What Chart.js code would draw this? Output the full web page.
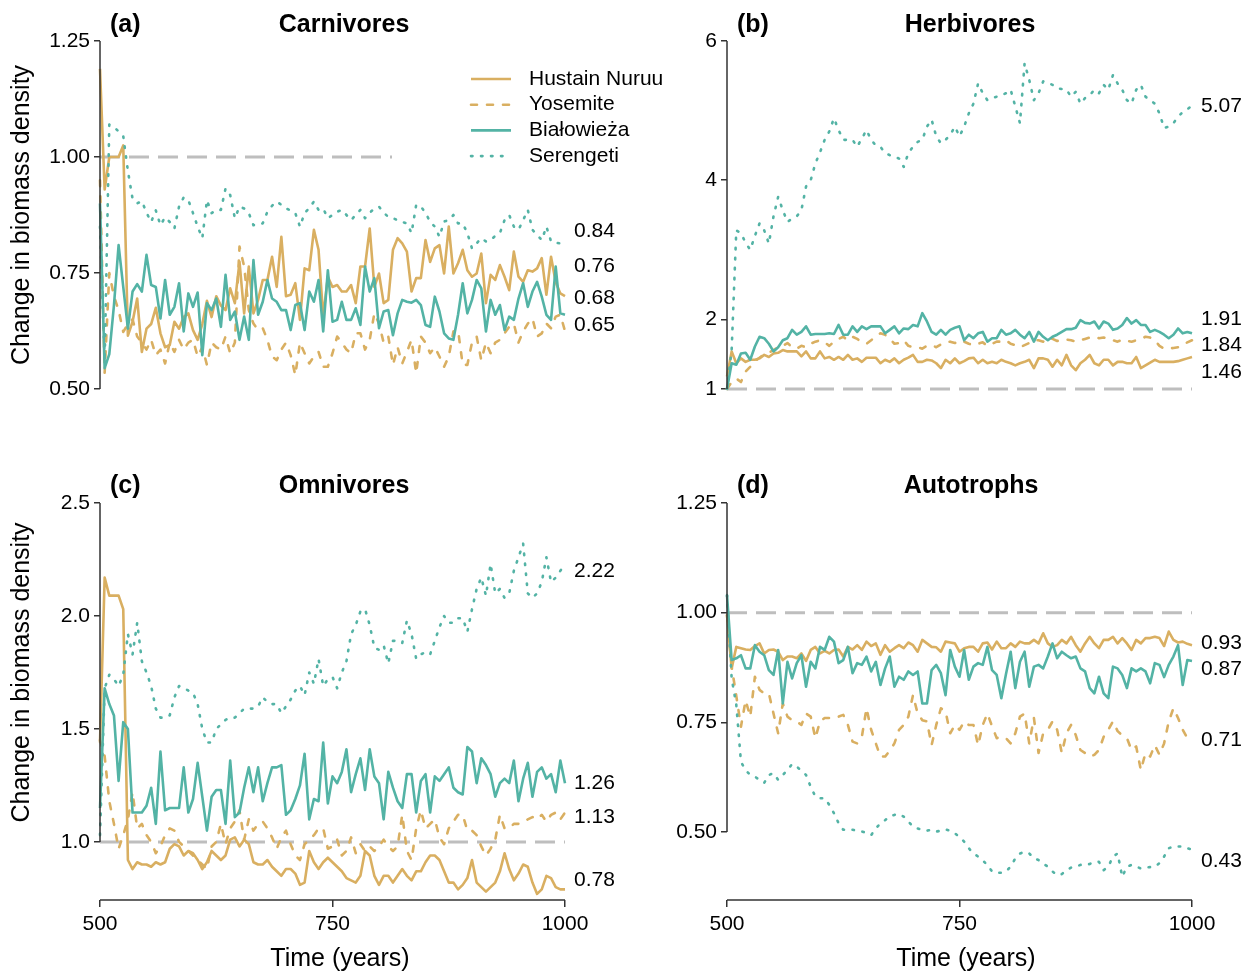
<!DOCTYPE html>
<html>
<head>
<meta charset="utf-8">
<script src="https://cdn.jsdelivr.net/npm/chart.js@4.4.1/dist/chart.umd.min.js"></script>
<style>
  body { margin: 0; background: #fff; }
  canvas { position: absolute; }
</style>
</head>
<body>
<canvas id="carn" width="700" height="450" style="left:0;top:0"></canvas>
<canvas id="herb" width="625" height="450" style="left:625px;top:0"></canvas>
<canvas id="omni" width="625" height="523" style="left:0;top:450px"></canvas>
<canvas id="auto" width="625" height="523" style="left:625px;top:450px"></canvas>
<script>
// time axis: one point every 5 years
var years = [];
for (var t = 500; t <= 1000; t += 5) years.push(t);
var xTickValues = [500, 750, 1000];
var seriesNames = ['Hustain Nuruu', 'Yosemite', 'Białowieża', 'Serengeti'];

// (a) Carnivores
var carnHustain = [1.19, 0.93, 1.0, 1.0, 1.0, 1.025, 0.615, 0.645, 0.695, 0.58,
  0.63, 0.64, 0.675, 0.62, 0.59, 0.595, 0.645, 0.63, 0.655, 0.663,
  0.627, 0.606, 0.64, 0.69, 0.655, 0.7, 0.68, 0.67, 0.717, 0.685,
  0.774, 0.663, 0.764, 0.663, 0.692, 0.735, 0.735, 0.785, 0.72, 0.828,
  0.7, 0.703, 0.728, 0.649, 0.76, 0.756, 0.843, 0.8, 0.656, 0.742,
  0.72, 0.724, 0.71, 0.71, 0.724, 0.685, 0.764, 0.764, 0.846, 0.72,
  0.749, 0.685, 0.692, 0.8, 0.825, 0.814, 0.796, 0.71, 0.739, 0.739,
  0.821, 0.774, 0.803, 0.81, 0.749, 0.85, 0.749, 0.771, 0.8, 0.756,
  0.742, 0.749, 0.792, 0.685, 0.746, 0.735, 0.767, 0.742, 0.713, 0.796,
  0.742, 0.731, 0.756, 0.753, 0.76, 0.782, 0.703, 0.785, 0.73, 0.706,
  0.7];
var carnYosemite = [0.95, 0.535, 0.75, 0.70, 0.67, 0.623, 0.64, 0.65, 0.613, 0.6,
  0.585, 0.606, 0.573, 0.585, 0.555, 0.6, 0.58, 0.606, 0.585, 0.6,
  0.606, 0.57, 0.59, 0.552, 0.6, 0.59, 0.585, 0.613, 0.577, 0.6,
  0.807, 0.764, 0.67, 0.641, 0.627, 0.631, 0.606, 0.57, 0.562, 0.585,
  0.6, 0.573, 0.53, 0.6, 0.577, 0.555, 0.57, 0.58, 0.548, 0.548,
  0.577, 0.613, 0.6, 0.585, 0.577, 0.62, 0.62, 0.585, 0.606, 0.663,
  0.641, 0.6, 0.613, 0.552, 0.59, 0.555, 0.58, 0.606, 0.534, 0.613,
  0.6, 0.577, 0.59, 0.57, 0.548, 0.57, 0.624, 0.627, 0.552, 0.552,
  0.6, 0.613, 0.562, 0.6, 0.577, 0.6, 0.606, 0.62, 0.634, 0.641,
  0.6, 0.624, 0.641, 0.652, 0.613, 0.62, 0.641, 0.631, 0.656, 0.66,
  0.625];
var carnBialowieza = [0.90, 0.545, 0.575, 0.68, 0.81, 0.72, 0.63, 0.71, 0.726, 0.71,
  0.789, 0.724, 0.72, 0.652, 0.735, 0.66, 0.677, 0.728, 0.624, 0.706,
  0.677, 0.708, 0.573, 0.685, 0.67, 0.695, 0.634, 0.746, 0.649, 0.667,
  0.606, 0.656, 0.606, 0.778, 0.66, 0.688, 0.735, 0.695, 0.688, 0.67,
  0.67, 0.627, 0.681, 0.685, 0.627, 0.71, 0.688, 0.735, 0.624, 0.756,
  0.645, 0.649, 0.688, 0.649, 0.649, 0.674, 0.638, 0.764, 0.71, 0.739,
  0.631, 0.667, 0.67, 0.616, 0.663, 0.692, 0.688, 0.686, 0.692, 0.681,
  0.638, 0.634, 0.699, 0.667, 0.62, 0.609, 0.606, 0.66, 0.728, 0.663,
  0.692, 0.735, 0.717, 0.624, 0.692, 0.66, 0.681, 0.627, 0.656, 0.649,
  0.695, 0.728, 0.677, 0.71, 0.731, 0.699, 0.66, 0.649, 0.764, 0.663,
  0.66];
var carnSerengeti = [0.85, 0.56, 1.07, 1.065, 1.055, 1.045, 0.97, 0.91, 0.9, 0.905,
  0.88, 0.86, 0.885, 0.853, 0.87, 0.86, 0.846, 0.893, 0.913, 0.907,
  0.879, 0.85, 0.825, 0.907, 0.879, 0.886, 0.886, 0.932, 0.918, 0.868,
  0.893, 0.889, 0.879, 0.853, 0.855, 0.857, 0.882, 0.895, 0.904, 0.897,
  0.889, 0.885, 0.879, 0.85, 0.879, 0.89, 0.904, 0.886, 0.889, 0.868,
  0.875, 0.882, 0.886, 0.875, 0.864, 0.875, 0.886, 0.868, 0.88, 0.889,
  0.893, 0.88, 0.871, 0.868, 0.864, 0.86, 0.857, 0.836, 0.897, 0.893,
  0.88, 0.86, 0.85, 0.828, 0.861, 0.864, 0.875, 0.857, 0.857, 0.836,
  0.803, 0.814, 0.825, 0.818, 0.821, 0.83, 0.836, 0.864, 0.875, 0.85,
  0.843, 0.864, 0.886, 0.843, 0.832, 0.821, 0.85, 0.818, 0.815, 0.814,
  0.807];
var carnTicks = [0.5, 0.75, 1.0, 1.25];
var carnEndLabels = [0.84, 0.76, 0.68, 0.65];

// (b) Herbivores
var herbHustain = [1.18, 1.54, 1.37, 1.44, 1.39, 1.42, 1.42, 1.44, 1.49, 1.46,
  1.51, 1.52, 1.56, 1.54, 1.54, 1.54, 1.47, 1.54, 1.44, 1.44,
  1.54, 1.44, 1.46, 1.42, 1.46, 1.42, 1.49, 1.42, 1.44, 1.39,
  1.45, 1.45, 1.45, 1.37, 1.42, 1.39, 1.44, 1.37, 1.42, 1.45,
  1.49, 1.39, 1.39, 1.42, 1.41, 1.37, 1.3, 1.42, 1.37, 1.44,
  1.37, 1.4, 1.44, 1.45, 1.37, 1.42, 1.37, 1.39, 1.37, 1.42,
  1.39, 1.37, 1.34, 1.37, 1.39, 1.42, 1.3, 1.44, 1.44, 1.42,
  1.32, 1.42, 1.34, 1.49, 1.34, 1.27, 1.37, 1.42, 1.49, 1.37,
  1.34, 1.42, 1.42, 1.34, 1.39, 1.39, 1.37, 1.37, 1.46, 1.3,
  1.34, 1.38, 1.42, 1.39, 1.39, 1.39, 1.39, 1.4, 1.42, 1.44,
  1.46];
var herbYosemite = [1.0, 1.1, 1.15, 1.1, 1.25, 1.32, 1.4, 1.45, 1.5, 1.52,
  1.56, 1.6, 1.62, 1.66, 1.6, 1.58, 1.62, 1.6, 1.65, 1.68,
  1.7, 1.67, 1.62, 1.68, 1.72, 1.75, 1.7, 1.75, 1.72, 1.67,
  1.65, 1.7, 1.76, 1.8, 1.78, 1.72, 1.65, 1.66, 1.7, 1.62,
  1.6, 1.6, 1.58, 1.62, 1.63, 1.6, 1.64, 1.67, 1.68, 1.66,
  1.7, 1.68, 1.65, 1.63, 1.65, 1.67, 1.62, 1.65, 1.68, 1.68,
  1.7, 1.65, 1.63, 1.6, 1.63, 1.66, 1.7, 1.7, 1.68, 1.73,
  1.72, 1.69, 1.7, 1.71, 1.7, 1.68, 1.7, 1.72, 1.74, 1.75,
  1.73, 1.74, 1.72, 1.7, 1.68, 1.71, 1.69, 1.68, 1.7, 1.72,
  1.75, 1.74, 1.7, 1.62, 1.58, 1.58, 1.59, 1.6, 1.64, 1.67,
  1.7];
var herbBialowieza = [1.0, 1.37, 1.35, 1.51, 1.52, 1.42, 1.61, 1.75, 1.73, 1.65,
  1.54, 1.6, 1.7, 1.73, 1.85, 1.78, 1.82, 1.9, 1.78, 1.79,
  1.79, 1.79, 1.8, 1.79, 1.92, 1.78, 1.78, 1.9, 1.82, 1.9,
  1.86, 1.9, 1.9, 1.9, 1.8, 1.85, 1.9, 1.8, 1.87, 1.86,
  1.92, 1.9, 2.09, 1.97, 1.82, 1.78, 1.85, 1.78, 1.85, 1.88,
  1.9, 1.7, 1.78, 1.73, 1.8, 1.82, 1.68, 1.73, 1.73, 1.85,
  1.78, 1.8, 1.85, 1.78, 1.73, 1.82, 1.68, 1.82, 1.75, 1.7,
  1.75, 1.78, 1.82, 1.86, 1.86, 1.88, 1.99, 1.95, 1.94, 1.97,
  1.87, 1.97, 1.94, 1.85, 1.87, 1.92, 2.02, 1.94, 1.99, 1.92,
  1.92, 1.82, 1.85, 1.82, 1.78, 1.73, 1.78, 1.87, 1.8, 1.82,
  1.8];
var herbSerengeti = [1.0, 1.56, 3.28, 3.24, 3.1, 3.0, 3.2, 3.38, 3.28, 3.09,
  3.48, 3.76, 3.57, 3.4, 3.45, 3.48, 3.57, 3.91, 4.0, 4.24,
  4.4, 4.58, 4.7, 4.89, 4.72, 4.58, 4.58, 4.58, 4.48, 4.6,
  4.72, 4.58, 4.5, 4.48, 4.39, 4.36, 4.34, 4.31, 4.19, 4.39,
  4.48, 4.55, 4.58, 4.77, 4.87, 4.63, 4.53, 4.58, 4.65, 4.77,
  4.63, 4.77, 4.96, 5.1, 5.39, 5.25, 5.15, 5.18, 5.2, 5.22,
  5.25, 5.3, 5.06, 4.82, 5.68, 5.44, 5.15, 5.25, 5.42, 5.4,
  5.37, 5.32, 5.31, 5.3, 5.2, 5.27, 5.1, 5.18, 5.22, 5.3,
  5.25, 5.37, 5.3, 5.51, 5.39, 5.3, 5.15, 5.1, 5.3, 5.37,
  5.2, 5.15, 5.1, 4.96, 4.75, 4.77, 4.82, 4.91, 4.98, 5.02,
  5.07];
var herbTicks = [1, 2, 4, 6];
var herbEndLabels = [5.07, 1.91, 1.84, 1.46];

// (c) Omnivores
var omniHustain = [1.44, 2.17, 2.09, 2.09, 2.09, 2.03, 0.92, 0.88, 0.91, 0.9,
  0.9, 0.89, 0.91, 0.9, 0.91, 0.97, 0.99, 0.98, 0.94, 0.96,
  0.95, 0.92, 0.88, 0.91, 0.96, 0.94, 0.92, 0.94, 1.01, 1.02,
  0.98, 1.01, 0.99, 0.91, 0.9, 0.9, 0.92, 0.89, 0.87, 0.85,
  0.88, 0.88, 0.86, 0.81, 0.82, 0.96, 0.91, 0.88, 0.91, 0.93,
  0.91, 0.89, 0.87, 0.84, 0.83, 0.82, 0.85, 0.96, 0.94, 0.85,
  0.81, 0.85, 0.85, 0.82, 0.85, 0.88, 0.85, 0.83, 0.87, 0.87,
  0.91, 0.94, 0.94, 0.92, 0.87, 0.82, 0.82, 0.79, 0.81, 0.84,
  0.92, 0.82, 0.8, 0.78, 0.8, 0.82, 0.87, 0.95, 0.88, 0.83,
  0.86, 0.9, 0.89, 0.82, 0.77, 0.79, 0.85, 0.84, 0.8, 0.79,
  0.79];
var omniYosemite = [1.45, 1.38, 1.18, 1.08, 0.97, 1.03, 1.1, 1.22, 1.06, 1.08,
  1.03, 1.0, 0.95, 0.98, 1.03, 1.06, 1.05, 1.0, 0.98, 0.96,
  0.94, 0.92, 0.9, 0.88, 0.98, 1.0, 1.08, 0.99, 1.06, 1.09,
  1.14, 1.01, 1.1, 1.05, 1.08, 1.09, 1.06, 1.02, 0.97, 1.02,
  1.05, 0.99, 0.94, 0.92, 0.99, 1.01, 1.03, 1.06, 1.06, 0.97,
  0.98, 1.01, 0.94, 0.96, 1.02, 0.95, 0.99, 0.96, 0.98, 0.96,
  0.98, 1.01, 0.98, 0.96, 0.98, 1.12, 0.96, 0.92, 1.06, 1.14,
  1.06, 1.08, 1.1, 1.02, 0.99, 1.06, 1.09, 1.12, 1.12, 1.05,
  1.05, 1.03, 0.98, 0.94, 0.97, 1.01, 1.12, 1.06, 1.06, 1.08,
  1.08, 1.09, 1.1, 1.11, 1.1, 1.12, 1.09, 1.12, 1.13, 1.1,
  1.13];
var omniBialowieza = [1.15, 1.68, 1.61, 1.56, 1.27, 1.53, 1.5, 1.13, 1.13, 1.13,
  1.16, 1.24, 1.08, 1.4, 1.14, 1.15, 1.15, 1.15, 1.33, 1.13,
  1.19, 1.35, 1.2, 1.05, 1.2, 1.23, 1.23, 1.08, 1.36, 1.11,
  1.13, 1.24, 1.33, 1.22, 1.33, 1.18, 1.26, 1.33, 1.33, 1.34,
  1.12, 1.14, 1.19, 1.25, 1.39, 1.1, 1.19, 1.18, 1.44, 1.17,
  1.29, 1.26, 1.31, 1.41, 1.22, 1.3, 1.37, 1.23, 1.41, 1.29,
  1.26, 1.1, 1.31, 1.24, 1.18, 1.15, 1.3, 1.3, 1.13, 1.27,
  1.3, 1.13, 1.29, 1.27, 1.3, 1.33, 1.24, 1.22, 1.21, 1.42,
  1.4, 1.26, 1.37, 1.34, 1.3, 1.2, 1.26, 1.28, 1.26, 1.36,
  1.18, 1.28, 1.35, 1.2, 1.31, 1.33, 1.28, 1.3, 1.22, 1.36,
  1.26];
var omniSerengeti = [1.03, 1.68, 1.74, 1.72, 1.69, 1.74, 1.92, 1.83, 1.97, 1.8,
  1.75, 1.69, 1.59, 1.55, 1.55, 1.56, 1.64, 1.69, 1.68, 1.67,
  1.66, 1.61, 1.5, 1.44, 1.44, 1.5, 1.52, 1.54, 1.55, 1.55,
  1.57, 1.59, 1.59, 1.59, 1.6, 1.64, 1.62, 1.61, 1.61, 1.57,
  1.6, 1.63, 1.67, 1.69, 1.65, 1.75, 1.7, 1.81, 1.69, 1.72,
  1.73, 1.68, 1.75, 1.8, 1.92, 1.96, 2.02, 2.03, 1.96, 1.86,
  1.85, 1.87, 1.79, 1.89, 1.89, 1.88, 1.98, 1.92, 1.81, 1.83,
  1.84, 1.83, 1.89, 1.95, 2.0, 1.97, 1.97, 1.99, 1.99, 1.93,
  2.03, 2.12, 2.17, 2.09, 2.23, 2.1, 2.12, 2.08, 2.1, 2.2,
  2.26, 2.32, 2.1, 2.08, 2.1, 2.15, 2.26, 2.15, 2.17, 2.2,
  2.23];
var omniTicks = [1.0, 1.5, 2.0, 2.5];
var omniEndLabels = [2.22, 1.26, 1.13, 0.78];

// (d) Autotrophs
var autoHustain = [0.995, 0.873, 0.922, 0.919, 0.916, 0.915, 0.924, 0.93, 0.907, 0.915,
  0.916, 0.911, 0.892, 0.9, 0.9, 0.896, 0.907, 0.89, 0.915, 0.922,
  0.907, 0.913, 0.907, 0.915, 0.916, 0.9, 0.922, 0.916, 0.926, 0.915,
  0.934, 0.924, 0.93, 0.904, 0.926, 0.911, 0.919, 0.926, 0.919, 0.932,
  0.926, 0.911, 0.938, 0.93, 0.922, 0.921, 0.911, 0.934, 0.932, 0.93,
  0.911, 0.919, 0.922, 0.922, 0.911, 0.93, 0.932, 0.916, 0.934, 0.919,
  0.919, 0.93, 0.922, 0.934, 0.93, 0.93, 0.938, 0.93, 0.953, 0.93,
  0.922, 0.926, 0.938, 0.93, 0.945, 0.926, 0.911, 0.93, 0.945, 0.93,
  0.919, 0.938, 0.938, 0.945, 0.93, 0.942, 0.93, 0.915, 0.938, 0.93,
  0.942, 0.942, 0.945, 0.942, 0.924, 0.957, 0.938, 0.932, 0.934, 0.929,
  0.926];
var autoYosemite = [0.995, 0.877, 0.81, 0.74, 0.8, 0.763, 0.854, 0.824, 0.816, 0.816,
  0.77, 0.725, 0.793, 0.763, 0.755, 0.752, 0.744, 0.77, 0.763, 0.714,
  0.752, 0.76, 0.76, 0.763, 0.763, 0.767, 0.744, 0.706, 0.702, 0.717,
  0.782, 0.733, 0.702, 0.672, 0.672, 0.685, 0.702, 0.733, 0.744, 0.763,
  0.812, 0.77, 0.755, 0.752, 0.698, 0.744, 0.782, 0.775, 0.725, 0.744,
  0.733, 0.752, 0.744, 0.744, 0.698, 0.744, 0.77, 0.741, 0.714, 0.717,
  0.714, 0.702, 0.725, 0.763, 0.77, 0.702, 0.76, 0.68, 0.725, 0.733,
  0.752, 0.733, 0.68, 0.725, 0.744, 0.721, 0.687, 0.68, 0.672, 0.676,
  0.687, 0.717, 0.733, 0.752, 0.73, 0.72, 0.714, 0.687, 0.695, 0.641,
  0.68, 0.672, 0.698, 0.676, 0.702, 0.752, 0.782, 0.76, 0.733, 0.714,
  0.71];
var autoBialowieza = [1.04, 0.892, 0.896, 0.903, 0.873, 0.873, 0.926, 0.911, 0.903, 0.869,
  0.858, 0.915, 0.793, 0.888, 0.85, 0.885, 0.903, 0.831, 0.888, 0.873,
  0.922, 0.915, 0.945, 0.934, 0.885, 0.892, 0.922, 0.862, 0.885, 0.881,
  0.9, 0.866, 0.888, 0.835, 0.873, 0.9, 0.831, 0.854, 0.847, 0.866,
  0.858, 0.866, 0.793, 0.793, 0.869, 0.881, 0.862, 0.812, 0.915, 0.877,
  0.854, 0.915, 0.847, 0.877, 0.885, 0.881, 0.922, 0.869, 0.858, 0.805,
  0.86, 0.911, 0.828, 0.888, 0.911, 0.831, 0.877, 0.881, 0.873, 0.9,
  0.93, 0.896, 0.911, 0.903, 0.896, 0.9, 0.873, 0.866, 0.828, 0.816,
  0.854, 0.816, 0.805, 0.877, 0.873, 0.858, 0.828, 0.873, 0.866, 0.873,
  0.866, 0.839, 0.885, 0.881, 0.853, 0.881, 0.9, 0.926, 0.835, 0.892,
  0.89];
var autoSerengeti = [1.04, 0.85, 0.79, 0.66, 0.641, 0.63, 0.626, 0.619, 0.612, 0.63,
  0.634, 0.619, 0.63, 0.641, 0.655, 0.649, 0.64, 0.63, 0.603, 0.581,
  0.577, 0.577, 0.562, 0.543, 0.52, 0.505, 0.505, 0.505, 0.503, 0.501,
  0.498, 0.493, 0.508, 0.52, 0.527, 0.536, 0.539, 0.541, 0.535, 0.524,
  0.512, 0.508, 0.505, 0.503, 0.505, 0.501, 0.503, 0.506, 0.503, 0.497,
  0.489, 0.478, 0.463, 0.451, 0.444, 0.435, 0.425, 0.41, 0.407, 0.407,
  0.41, 0.421, 0.44, 0.451, 0.455, 0.451, 0.44, 0.436, 0.428, 0.421,
  0.41, 0.402, 0.404, 0.413, 0.419, 0.421, 0.425, 0.425, 0.427, 0.432,
  0.432, 0.413, 0.421, 0.444, 0.451, 0.398, 0.421, 0.425, 0.421, 0.417,
  0.419, 0.42, 0.421, 0.429, 0.444, 0.463, 0.467, 0.467, 0.467, 0.463,
  0.46];
var autoTicks = [0.5, 0.75, 1.0, 1.25];
var autoEndLabels = [0.93, 0.87, 0.71, 0.43];

var yellow = '#D9AF61';
var teal = '#53B3A5';
var refGrey = '#BEBEBE';
var axisColor = '#333333';
var family = '"Liberation Sans", Arial, Helvetica, sans-serif';

var lineStyles = {
  'Hustain Nuruu': { color: yellow, dash: [], order: 3 },
  'Yosemite': { color: yellow, dash: [6, 10], order: 2 },
  'Białowieża': { color: teal, dash: [], order: 1 },
  'Serengeti': { color: teal, dash: [1.5, 8.5], order: 0 }
};

function buildDatasets(series) {
  var ds = seriesNames.map(function(name, k) {
    if (series[k].length !== years.length) throw new Error(name + ' has ' + series[k].length + ' values');
    var st = lineStyles[name];
    return {
      label: name,
      data: years.map(function(yr, j) { return { x: yr, y: series[k][j] }; }),
      borderColor: st.color,
      borderDash: st.dash,
      borderWidth: 2.6,
      borderCapStyle: st.dash.length ? 'round' : 'butt',
      borderJoinStyle: 'round',
      pointRadius: 0,
      tension: 0,
      clip: false,
      order: st.order
    };
  });
  // reference line at no change
  ds.push({
    label: 'ref',
    data: [{ x: 500, y: 1 }, { x: 1000, y: 1 }],
    borderColor: refGrey,
    borderDash: [20, 9],
    borderWidth: 3,
    pointRadius: 0,
    clip: false,
    order: 10
  });
  return ds;
}

var decorPlugin = {
  id: 'decor',
  afterDatasetsDraw: function(chart, args, o) {
    var ctx = chart.ctx, area = chart.chartArea;
    var ys = chart.scales.y, xs = chart.scales.x;
    ctx.save();
    // axis lines only span the tick range
    ctx.strokeStyle = axisColor;
    ctx.lineWidth = 1.5;
    ctx.beginPath();
    ctx.moveTo(area.left, ys.getPixelForValue(o.yTicks[0]));
    ctx.lineTo(area.left, ys.getPixelForValue(o.yTicks[o.yTicks.length - 1]));
    if (o.xAxis) {
      ctx.moveTo(xs.getPixelForValue(xTickValues[0]), area.bottom);
      ctx.lineTo(xs.getPixelForValue(xTickValues[xTickValues.length - 1]), area.bottom);
    }
    ctx.stroke();

    // values at the right edge
    ctx.fillStyle = '#000';
    ctx.font = '21px ' + family;
    ctx.textAlign = 'left';
    ctx.textBaseline = 'middle';
    o.endLabels.forEach(function(v, k) {
      ctx.fillText(v.toFixed(2), o.labelX, ys.getPixelForValue(v) + o.labelNudge[k]);
    });

    if (o.legend) {
      ctx.fillStyle = '#fff';
      ctx.fillRect(392, 62, 280, 110);
      seriesNames.forEach(function(name, k) {
        var st = lineStyles[name];
        var y = 79 + k * 25.7;
        ctx.strokeStyle = st.color;
        ctx.lineWidth = 2.6;
        ctx.setLineDash(st.dash);
        ctx.lineCap = st.dash.length ? 'round' : 'butt';
        ctx.beginPath();
        ctx.moveTo(471, y);
        ctx.lineTo(511, y);
        ctx.stroke();
        ctx.setLineDash([]);
        ctx.fillStyle = '#000';
        ctx.fillText(name, 529, y);
      });
    }
    ctx.restore();
  },
  afterDraw: function(chart, args, o) {
    var ctx = chart.ctx, ys = chart.scales.y;
    ctx.save();
    ctx.fillStyle = '#000';
    ctx.textBaseline = 'alphabetic';
    ctx.font = 'bold 25px ' + family;
    ctx.textAlign = 'left';
    ctx.fillText(o.tag, o.tagX, o.titleY);
    ctx.textAlign = 'center';
    ctx.fillText(o.title, o.titleX, o.titleY);
    ctx.font = '25px ' + family;
    if (o.yTitle) {
      var yc = (ys.getPixelForValue(o.yTicks[0]) + ys.getPixelForValue(o.yTicks[o.yTicks.length - 1])) / 2;
      ctx.save();
      ctx.translate(22, yc);
      ctx.rotate(-Math.PI / 2);
      ctx.textBaseline = 'middle';
      ctx.fillText('Change in biomass density', 0, 0);
      ctx.restore();
    }
    if (o.xAxis) {
      ctx.fillText('Time (years)', o.xTitleX, 516);
    }
    ctx.restore();
  }
};

function makePanel(id, series, cfg) {
  return new Chart(document.getElementById(id), {
    type: 'line',
    data: { datasets: buildDatasets(series) },
    options: {
      responsive: false,
      animation: false,
      events: [],
      layout: { padding: cfg.padding },
      plugins: {
        legend: { display: false },
        tooltip: { enabled: false },
        decor: cfg.decor
      },
      scales: {
        x: {
          type: 'linear',
          min: 500,
          max: 1000,
          display: cfg.decor.xAxis,
          afterBuildTicks: function(s) { s.ticks = xTickValues.map(function(v) { return { value: v }; }); },
          afterFit: function(s) { s.height = cfg.decor.xAxis ? 73 : 0; },
          ticks: {
            callback: function(v) { return String(v); },
            color: '#000', padding: 5, maxRotation: 0, autoSkip: false,
            font: { family: family, size: 21 }
          },
          grid: { drawOnChartArea: false, tickLength: 7, color: axisColor, lineWidth: 1.5 },
          border: { display: false }
        },
        y: {
          type: 'linear',
          min: cfg.yMin,
          max: cfg.yMax,
          afterBuildTicks: function(s) { s.ticks = cfg.decor.yTicks.map(function(v) { return { value: v }; }); },
          afterFit: function(s) { s.width = cfg.yWidth; },
          ticks: {
            callback: function(v) { return Number(v).toFixed(cfg.decimals); },
            color: '#000', padding: 4,
            font: { family: family, size: 21 }
          },
          grid: { drawOnChartArea: false, tickLength: 6, color: axisColor, lineWidth: 1.5 },
          border: { display: false }
        }
      }
    },
    plugins: [decorPlugin]
  });
}

makePanel('carn', [carnHustain, carnYosemite, carnBialowieza, carnSerengeti], {
  padding: { left: 0, top: 41, right: 135, bottom: 61 },
  yMin: 0.5, yMax: 1.25, yWidth: 100, decimals: 2,
  decor: { tag: '(a)', title: 'Carnivores', tagX: 110, titleX: 344, titleY: 32,
    yTicks: carnTicks, yTitle: true, xAxis: false, legend: true,
    endLabels: carnEndLabels, labelNudge: [0, -2, -7, 6], labelX: 574 }
});
makePanel('herb', [herbHustain, herbYosemite, herbBialowieza, herbSerengeti], {
  padding: { left: 0, top: 41, right: 58, bottom: 61 },
  yMin: 1, yMax: 6, yWidth: 102, decimals: 0,
  decor: { tag: '(b)', title: 'Herbivores', tagX: 112, titleX: 345, titleY: 32,
    yTicks: herbTicks, yTitle: false, xAxis: false, legend: false,
    endLabels: herbEndLabels, labelNudge: [0, -6, 15, 15], labelX: 576 }
});
makePanel('omni', [omniHustain, omniYosemite, omniBialowieza, omniSerengeti], {
  padding: { left: 0, top: 53, right: 60, bottom: 0 },
  yMin: 0.743, yMax: 2.5, yWidth: 100, decimals: 1,
  decor: { tag: '(c)', title: 'Omnivores', tagX: 110, titleX: 344, titleY: 43,
    yTicks: omniTicks, yTitle: true, xAxis: true, xTitleX: 340, legend: false,
    endLabels: omniEndLabels, labelNudge: [5, 0, 5, -11], labelX: 574 }
});
makePanel('auto', [autoHustain, autoYosemite, autoBialowieza, autoSerengeti], {
  padding: { left: 0, top: 53, right: 58, bottom: 0 },
  yMin: 0.345, yMax: 1.25, yWidth: 102, decimals: 2,
  decor: { tag: '(d)', title: 'Autotrophs', tagX: 112, titleX: 346, titleY: 43,
    yTicks: autoTicks, yTitle: false, xAxis: true, xTitleX: 341, legend: false,
    endLabels: autoEndLabels, labelNudge: [0, 0, 0, -2], labelX: 576 }
});
</script>
</body>
</html>
